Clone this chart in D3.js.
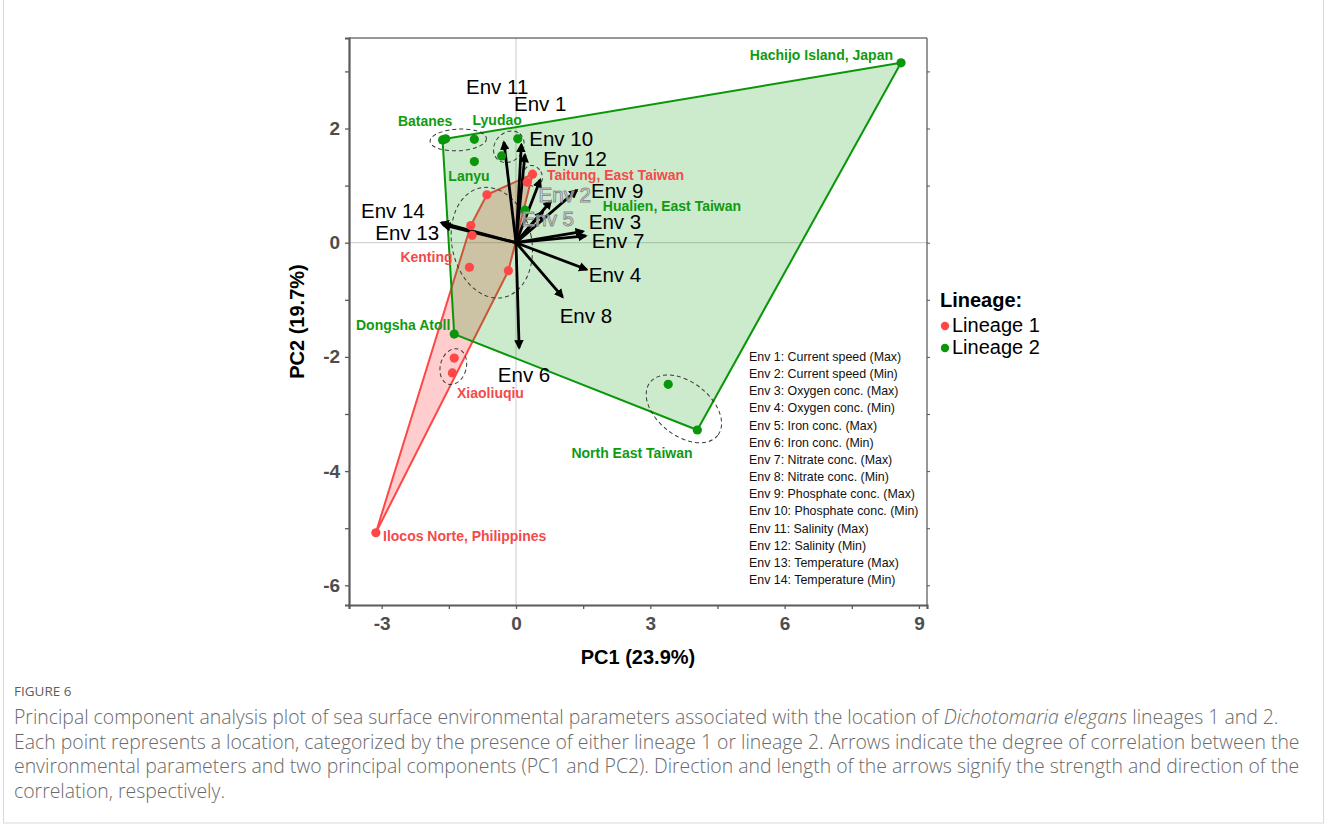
<!DOCTYPE html>
<html>
<head>
<meta charset="utf-8">
<script src="https://cdn.jsdelivr.net/npm/d3@7"></script>
<style>
  html, body { margin: 0; padding: 0; background: #fff; }
  svg { display: block; }
</style>
</head>
<body>
<svg id="chart" width="1328" height="827"></svg>
<script>
// ---------------- DATA ----------------
const lineages = ["Lineage 1", "Lineage 2"];

// Lineage 1 sites (PC1, PC2)
const lineage1PC1 = [0.37, 0.25, -0.65, -1.01, -0.98, -1.04, -0.17, -1.38, -1.42, -3.13];
const lineage1PC2 = [1.20, 1.06, 0.84, 0.30, 0.13, -0.43, -0.49, -2.02, -2.28, -5.08];

// Lineage 2 sites (PC1, PC2)
const lineage2PC1 = [-1.64, -1.57, -0.93, 0.04, -0.32, -0.93, 0.20, -1.38, 3.40, 4.05, 8.60];
const lineage2PC2 = [1.80, 1.82, 1.81, 1.82, 1.52, 1.42, 0.57, -1.60, -2.48, -3.28, 3.15];

// Environmental loadings (arrow tips)
const envNames = ["Env 1","Env 2","Env 3","Env 4","Env 5","Env 6","Env 7","Env 8","Env 9","Env 10","Env 11","Env 12","Env 13","Env 14"];
const envPC1 = [0.12, 0.78, 1.50, 1.58, 0.60, 0.07, 1.56, 1.04, 1.36, 0.20, -0.27, 0.54, -1.63, -1.67];
const envPC2 = [1.72, 0.73, 0.20, -0.47, 0.54, -1.84, 0.12, -0.95, 0.92, 1.54, 1.76, 1.10, 0.31, 0.35];
// repelled label positions (data units)
const envLabelPC1 = [0.54, 1.09, 2.21, 2.21, 0.71, 0.18, 2.28, 1.56, 2.26, 1.01, -0.42, 1.32, -2.43, -2.75];
const envLabelPC2 = [2.43, 0.85, 0.38, -0.55, 0.43, -2.30, 0.03, -1.27, 0.91, 1.82, 2.74, 1.48, 0.17, 0.57];
const envOverlapped = ["Env 2", "Env 5"];

const envDescriptions = [
  "Env 1: Current speed (Max)", "Env 2: Current speed (Min)", "Env 3: Oxygen conc. (Max)",
  "Env 4: Oxygen conc. (Min)", "Env 5: Iron conc. (Max)", "Env 6: Iron conc. (Min)",
  "Env 7: Nitrate conc. (Max)", "Env 8: Nitrate conc. (Min)", "Env 9: Phosphate conc. (Max)",
  "Env 10: Phosphate conc. (Min)", "Env 11: Salinity (Max)", "Env 12: Salinity (Min)",
  "Env 13: Temperature (Max)", "Env 14: Temperature (Min)"
];

// Site labels
const siteNames   = ["Hachijo Island, Japan", "Batanes", "Lyudao", "Lanyu", "Taitung, East Taiwan", "Hualien, East Taiwan", "Kenting", "Dongsha Atoll", "Xiaoliuqiu", "North East Taiwan", "Ilocos Norte, Philippines"];
const siteLineage = [2, 2, 2, 2, 1, 2, 1, 2, 1, 2, 1];
const siteLabelPC1 = [8.42, -2.03, -0.42, -1.05, 0.69, 1.94, -2.00, -2.52, -0.57, 2.59, -2.97];
const siteLabelPC2 = [3.29, 2.13, 2.15, 1.17, 1.19, 0.64, -0.25, -1.44, -2.63, -3.69, -5.14];
const siteLabelAnchor = ["end", "middle", "middle", "middle", "start", "start", "middle", "middle", "middle", "middle", "start"];

// Dashed grouping ellipses (center in data, radii in data units, rotation deg)
const ellipseCX  = [-1.29, -0.16, 0.38, -0.54, -1.40, 3.75];
const ellipseCY  = [1.80, 1.68, 1.17, 0.00, -2.17, -2.91];
const ellipseRX  = [0.63, 0.38, 0.20, 0.89, 0.29, 0.96];
const ellipseRY  = [0.19, 0.245, 0.19, 0.98, 0.32, 0.47];
const ellipseRot = [-3, -50, -30, -12, 15, 38];

const xTicks = [-3, -1.5, 0, 1.5, 3, 4.5, 6, 7.5, 9];
const xTickLabels = [-3, 0, 3, 6, 9];
const yTicks = [-6, -5, -4, -3, -2, -1, 0, 1, 2, 3];
const yTickLabels = [-6, -4, -2, 0, 2];

const xTitle = "PC1 (23.9%)";
const yTitle = "PC2 (19.7%)";
const legendTitle = "Lineage:";

const captionHead = "FIGURE 6";

// ---------------- STYLE ----------------
const RED = "#FF4747", GREEN = "#0A960A";
const RED_TXT = "#F44A4A", GREEN_TXT = "#119A11";
const FONT = "'Liberation Sans', Arial, Helvetica, sans-serif";

const svg = d3.select("#chart");
const panel = { left: 349, right: 927, top: 38, bottom: 605 };

const x = d3.scaleLinear().domain([-3.73, 9.18]).range([panel.left, panel.right]);
const y = d3.scaleLinear().domain([-6.345, 3.585]).range([panel.bottom, panel.top]);

// figure card border
svg.append("rect").attr("x", 3.5).attr("y", -2).attr("width", 1320).attr("height", 825)
  .attr("fill", "none").attr("stroke", "#d9d9d9").attr("stroke-width", 1);

// zero reference lines
svg.append("line").attr("x1", x(0)).attr("x2", x(0)).attr("y1", panel.top).attr("y2", panel.bottom)
  .attr("stroke", "#d3d3d3").attr("stroke-width", 1.2);
svg.append("line").attr("x1", panel.left).attr("x2", panel.right).attr("y1", y(0)).attr("y2", y(0))
  .attr("stroke", "#d3d3d3").attr("stroke-width", 1.2);

// points
const pts1 = lineage1PC1.map((v, i) => [v, lineage1PC2[i]]);
const pts2 = lineage2PC1.map((v, i) => [v, lineage2PC2[i]]);
const toPx = p => [x(p[0]), y(p[1])];

// hulls: red first, then green translucent over it
const hull1 = d3.polygonHull(pts1.map(toPx));
const hull2 = d3.polygonHull(pts2.map(toPx));
const line = d3.line().curve(d3.curveLinearClosed);

svg.append("path").attr("d", line(hull1))
  .attr("fill", "rgb(255,60,60)").attr("fill-opacity", 0.26)
  .attr("stroke", RED).attr("stroke-width", 2).attr("stroke-linejoin", "round");
svg.append("path").attr("d", line(hull2))
  .attr("fill", "rgb(0,150,0)").attr("fill-opacity", 0.2)
  .attr("stroke", GREEN).attr("stroke-width", 2).attr("stroke-linejoin", "round");

// ellipses
const ellG = svg.append("g");
ellipseCX.forEach((cx, i) => {
  const kx = Math.abs(x(1) - x(0)), ky = Math.abs(y(1) - y(0));
  ellG.append("ellipse")
    .attr("cx", 0).attr("cy", 0)
    .attr("rx", ellipseRX[i] * kx).attr("ry", ellipseRY[i] * ky)
    .attr("transform", `translate(${x(cx)},${y(ellipseCY[i])}) rotate(${ellipseRot[i]})`)
    .attr("fill", "none").attr("stroke", "#3a3a3a").attr("stroke-width", 1)
    .attr("stroke-dasharray", "4,3");
});

// arrows
const defs = svg.append("defs");
defs.append("marker").attr("id", "ah").attr("viewBox", "0 0 10 10")
  .attr("refX", 8).attr("refY", 5).attr("markerWidth", 3.4).attr("markerHeight", 3.4)
  .attr("orient", "auto").attr("markerUnits", "strokeWidth")
  .append("path").attr("d", "M0,0 L10,5 L0,10 Z").attr("fill", "#000");

const arrowG = svg.append("g");
envNames.forEach((n, i) => {
  arrowG.append("line")
    .attr("x1", x(0)).attr("y1", y(0))
    .attr("x2", x(envPC1[i])).attr("y2", y(envPC2[i]))
    .attr("stroke", "#000").attr("stroke-width", 2.8)
    .attr("marker-end", "url(#ah)");
});

// points on top
svg.append("g").selectAll("circle.l1").data(pts1).join("circle")
  .attr("cx", d => x(d[0])).attr("cy", d => y(d[1])).attr("r", 4.6).attr("fill", RED);
svg.append("g").selectAll("circle.l2").data(pts2).join("circle")
  .attr("cx", d => x(d[0])).attr("cy", d => y(d[1])).attr("r", 4.6).attr("fill", GREEN);

// env labels
envNames.forEach((n, i) => {
  const over = envOverlapped.includes(n);
  svg.append("text")
    .attr("x", x(envLabelPC1[i])).attr("y", y(envLabelPC2[i]))
    .attr("text-anchor", "middle").attr("dominant-baseline", "central")
    .attr("font-family", FONT).attr("font-size", 20.5)
    .attr("fill", over ? "#ffffff" : "#000")
    .attr("fill-opacity", over ? 0.55 : 1)
    .attr("stroke", over ? "#8c8c8c" : "none").attr("stroke-width", over ? 1 : 0)
    .text(n);
});

// site labels
siteNames.forEach((n, i) => {
  svg.append("text")
    .attr("x", x(siteLabelPC1[i])).attr("y", y(siteLabelPC2[i]))
    .attr("text-anchor", siteLabelAnchor[i]).attr("dominant-baseline", "central")
    .attr("font-family", FONT).attr("font-size", 14).attr("font-weight", "bold")
    .attr("fill", siteLineage[i] === 1 ? RED_TXT : GREEN_TXT)
    .text(n);
});

// panel border (top/right thin)
svg.append("line").attr("x1", panel.left).attr("x2", panel.right).attr("y1", panel.top).attr("y2", panel.top)
  .attr("stroke", "#333").attr("stroke-width", 1);
svg.append("line").attr("x1", panel.right).attr("x2", panel.right).attr("y1", panel.top).attr("y2", panel.bottom)
  .attr("stroke", "#333").attr("stroke-width", 1);

// axes
const xAxis = d3.axisBottom(x).tickValues(xTicks).tickSize(4)
  .tickFormat(d => xTickLabels.includes(d) ? String(d) : "");
const yAxis = d3.axisLeft(y).tickValues(yTicks).tickSize(4)
  .tickFormat(d => yTickLabels.includes(d) ? String(d) : "");

const gx = svg.append("g").attr("transform", `translate(0,${panel.bottom})`).call(xAxis);
const gy = svg.append("g").attr("transform", `translate(${panel.left},0)`).call(yAxis);
[gx, gy].forEach(g => {
  g.select(".domain").attr("stroke", "#5a5a5a").attr("stroke-width", 2.2);
  g.selectAll(".tick line").attr("stroke", "#5a5a5a").attr("stroke-width", 1.3);
  g.selectAll(".tick text").attr("font-family", FONT).attr("font-size", 19)
    .attr("font-weight", "bold").attr("fill", "#4d4d4d");
});
gx.selectAll(".tick text").attr("dy", "0.95em");
gy.selectAll(".tick text").attr("dx", "-0.1em");
// right small ticks
const rAxis = d3.axisRight(y).tickValues(yTicks).tickSize(3).tickFormat("");
const gr = svg.append("g").attr("transform", `translate(${panel.right},0)`).call(rAxis);
gr.select(".domain").remove();
gr.selectAll(".tick line").attr("stroke", "#555");

// axis titles
svg.append("text").attr("x", (panel.left + panel.right) / 2).attr("y", 657)
  .attr("text-anchor", "middle").attr("dominant-baseline", "central")
  .attr("font-family", FONT).attr("font-size", 20).attr("font-weight", "bold").text(xTitle);
svg.append("text").attr("transform", `translate(297,${(panel.top + panel.bottom) / 2}) rotate(-90)`)
  .attr("text-anchor", "middle").attr("dominant-baseline", "central")
  .attr("font-family", FONT).attr("font-size", 20).attr("font-weight", "bold").text(yTitle);

// legend
svg.append("text").attr("x", 940).attr("y", 300).attr("dominant-baseline", "central")
  .attr("font-family", FONT).attr("font-size", 20).attr("font-weight", "bold").text(legendTitle);
lineages.forEach((l, i) => {
  const yy = 325 + i * 22;
  svg.append("circle").attr("cx", 945).attr("cy", yy + 1).attr("r", 4.2).attr("fill", i === 0 ? RED : GREEN);
  svg.append("text").attr("x", 952).attr("y", yy).attr("dominant-baseline", "central")
    .attr("font-family", FONT).attr("font-size", 20).text(l);
});

// env description box text
envDescriptions.forEach((t, i) => {
  svg.append("text").attr("x", 749).attr("y", 357 + i * 17.15).attr("dominant-baseline", "central")
    .attr("font-family", FONT).attr("font-size", 12.4).attr("fill", "#111").text(t);
});

// caption
const CAPFONT = "'Open Sans', Lato, sans-serif";
svg.append("text").attr("x", 14).attr("y", 696)
  .attr("font-family", CAPFONT).attr("font-size", 13.5).attr("fill", "#5e5e5e").text(captionHead);

const capLines = [
  [["Principal component analysis plot of sea surface environmental parameters associated with the location of ", false], ["Dichotomaria elegans", true], [" lineages 1 and 2.", false]],
  [["Each point represents a location, categorized by the presence of either lineage 1 or lineage 2. Arrows indicate the degree of correlation between the", false]],
  [["environmental parameters and two principal components (PC1 and PC2). Direction and length of the arrows signify the strength and direction of the", false]],
  [["correlation, respectively.", false]]
];
const capG = svg.append("g");
const capTexts = capLines.map((parts, i) => {
  const t = capG.append("text").attr("x", 14).attr("y", 724 + i * 24.7)
    .attr("font-family", CAPFONT).attr("font-weight", 300).attr("font-size", 17).attr("fill", "#6a6a6a");
  parts.forEach(p => t.append("tspan").attr("font-style", p[1] ? "italic" : "normal").text(p[0]));
  return t;
});
const w1 = capTexts[0].node().getComputedTextLength();
const fs = 17 * 1266 / w1;
capTexts.forEach(t => t.attr("font-size", fs));
</script>
</body>
</html>
